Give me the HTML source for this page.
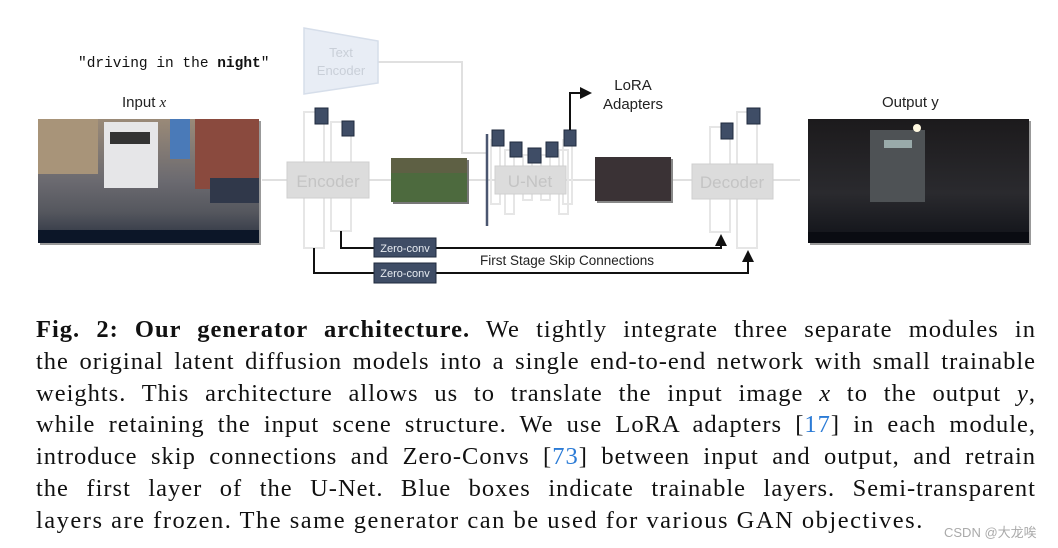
<!DOCTYPE html>
<html><head><meta charset="utf-8"><style>
body{margin:0;background:#fff;width:1058px;height:548px;overflow:hidden;position:relative}
.cap{position:absolute;left:36px;top:314px;width:1000px;font-family:"Liberation Serif",serif;font-size:24.5px;letter-spacing:1px;line-height:31.8px;text-align:justify;color:#111}
.cap p{margin:0;text-align-last:justify;white-space:nowrap}
.cap p.last{text-align-last:left;letter-spacing:1.5px}
a{color:#2b7bd6;text-decoration:none}
</style></head><body>
<svg width="1058" height="300" style="position:absolute;left:0;top:0" font-family="Liberation Sans,sans-serif">
<defs>
<marker id="ah" markerWidth="6" markerHeight="6" refX="5" refY="3" orient="auto"><path d="M0,0L6,3L0,6z" fill="#111"/></marker>
<linearGradient id="day" x1="0" y1="0" x2="0" y2="1"><stop offset="0" stop-color="#9a8a78"/><stop offset="0.5" stop-color="#6b6a70"/><stop offset="0.75" stop-color="#55575e"/><stop offset="1" stop-color="#2a3140"/></linearGradient>
<linearGradient id="night" x1="0" y1="0" x2="0" y2="1"><stop offset="0" stop-color="#1c1a1c"/><stop offset="0.6" stop-color="#2a2a2e"/><stop offset="1" stop-color="#101218"/></linearGradient>
</defs>
<text x="78" y="67" font-family="Liberation Mono,monospace" font-size="14.5" fill="#111">″driving in the <tspan font-weight="bold">night</tspan>″</text>
<text x="122" y="107" font-size="15" fill="#222">Input <tspan font-family="Liberation Serif,serif" font-style="italic">x</tspan></text>
<text x="882" y="107" font-size="15" fill="#222">Output y</text>
<rect x="40" y="121" width="221" height="124" fill="#999"/>
<rect x="38" y="119" width="221" height="124" fill="url(#day)"/>
<rect x="38" y="119" width="60" height="55" fill="#a89479"/>
<rect x="195" y="119" width="64" height="70" fill="#8a4a3e"/>
<rect x="170" y="119" width="20" height="40" fill="#4a7ab8"/>
<rect x="104" y="122" width="54" height="66" fill="#e6e6e8"/>
<rect x="110" y="132" width="40" height="12" fill="#333"/>
<rect x="210" y="178" width="49" height="25" fill="#30384a"/>
<rect x="38" y="230" width="221" height="13" fill="#0c1628"/>
<rect x="810" y="121" width="221" height="124" fill="#999"/>
<rect x="808" y="119" width="221" height="124" fill="url(#night)"/>
<rect x="870" y="130" width="55" height="72" fill="#4e5255"/>
<rect x="884" y="140" width="28" height="8" fill="#9aa"/>
<circle cx="917" cy="128" r="4" fill="#fff8e0"/>
<rect x="808" y="232" width="221" height="11" fill="#0a0c12"/>
<g stroke="#e0e0e0" stroke-width="2" fill="none">
<line x1="262" y1="180" x2="287" y2="180"/>
<line x1="369" y1="180" x2="391" y2="180"/>
<line x1="467" y1="180" x2="495" y2="180"/>
<line x1="566" y1="180" x2="595" y2="180"/>
<line x1="671" y1="180" x2="692" y2="180"/>
<line x1="773" y1="180" x2="800" y2="180"/>
<polyline points="378,62 462,62 462,153 487,153"/>
</g>
<polygon points="304,28 378,41 378,83 304,94" fill="#e8edf5" stroke="#d6deea" stroke-width="1.5"/>
<text x="341" y="57" font-size="13" fill="#c9cfd8" text-anchor="middle">Text</text>
<text x="341" y="75" font-size="13" fill="#c9cfd8" text-anchor="middle">Encoder</text>
<g fill="none" stroke="#e6e6e6" stroke-width="2">
<rect x="304" y="112" width="20" height="136"/>
<rect x="331" y="122" width="20" height="109"/>
<rect x="710" y="127" width="20" height="105"/>
<rect x="737" y="112" width="20" height="136"/>
<rect x="505" y="150" width="9" height="64"/>
<rect x="523" y="155" width="9" height="45"/>
<rect x="541" y="155" width="9" height="45"/>
<rect x="559" y="150" width="9" height="64"/>
<rect x="491" y="140" width="9" height="64"/>
<rect x="563" y="140" width="9" height="64"/>
</g>
<rect x="287" y="162" width="82" height="36" fill="#dcdcdc" stroke="#cfcfcf"/>
<text x="328" y="187" font-size="17" fill="#c4c4c4" text-anchor="middle">Encoder</text>
<rect x="692" y="164" width="81" height="35" fill="#dcdcdc" stroke="#cfcfcf"/>
<text x="732" y="188" font-size="17" fill="#c4c4c4" text-anchor="middle">Decoder</text>
<line x1="487" y1="134" x2="487" y2="226" stroke="#4a5670" stroke-width="2.5"/>
<rect x="495" y="166" width="71" height="28" fill="#dcdcdc" stroke="#cfcfcf"/>
<text x="530" y="187" font-size="17" fill="#c4c4c4" text-anchor="middle">U-Net</text>
<rect x="393" y="160" width="76" height="44" fill="#777"/>
<rect x="391" y="158" width="76" height="44" fill="#4d6a3e"/>
<rect x="391" y="158" width="76" height="15" fill="#6a5a4a" opacity="0.6"/>
<rect x="597" y="159" width="76" height="44" fill="#888"/>
<rect x="595" y="157" width="76" height="44" fill="#3a3235"/>
<g fill="#3f4d66" stroke="#1f2a3d" stroke-width="1">
<rect x="315" y="108" width="13" height="16"/>
<rect x="342" y="121" width="12" height="15"/>
<rect x="492" y="130" width="12" height="16"/>
<rect x="510" y="142" width="12" height="15"/>
<rect x="528" y="148" width="13" height="15"/>
<rect x="546" y="142" width="12" height="15"/>
<rect x="564" y="130" width="12" height="16"/>
<rect x="721" y="123" width="12" height="16"/>
<rect x="747" y="108" width="13" height="16"/>
</g>
<polyline points="570,130 570,93 590,93" fill="none" stroke="#111" stroke-width="2" marker-end="url(#ah)"/>
<text x="633" y="90" font-size="15" fill="#222" text-anchor="middle">LoRA</text>
<text x="633" y="109" font-size="15" fill="#222" text-anchor="middle">Adapters</text>
<polyline points="341,231 341,248 721,248 721,236" fill="none" stroke="#111" stroke-width="2" marker-end="url(#ah)"/>
<polyline points="314,248 314,273 748,273 748,252" fill="none" stroke="#111" stroke-width="2" marker-end="url(#ah)"/>
<g fill="#3f4d66" stroke="#1f2a3d">
<rect x="374" y="238" width="62" height="19"/>
<rect x="374" y="263" width="62" height="20"/>
</g>
<text x="405" y="252" font-size="11" fill="#e8ecf2" text-anchor="middle">Zero-conv</text>
<text x="405" y="277" font-size="11" fill="#e8ecf2" text-anchor="middle">Zero-conv</text>
<text x="567" y="265" font-size="13.5" fill="#222" text-anchor="middle">First Stage Skip Connections</text>
</svg>
<div class="cap">
<p><b>Fig. 2: Our generator architecture.</b> We tightly integrate three separate modules in</p>
<p>the original latent diffusion models into a single end-to-end network with small trainable</p>
<p>weights. This architecture allows us to translate the input image <i>x</i> to the output <i>y</i>,</p>
<p>while retaining the input scene structure. We use LoRA adapters [<a>17</a>] in each module,</p>
<p>introduce skip connections and Zero-Convs [<a>73</a>] between input and output, and retrain</p>
<p>the first layer of the U-Net. Blue boxes indicate trainable layers. Semi-transparent</p>
<p class="last">layers are frozen. The same generator can be used for various GAN objectives.</p>
</div>
<div style="position:absolute;left:944px;top:522px;font-family:'Liberation Sans','Noto Sans CJK SC',sans-serif;font-size:13px;color:#aaa">CSDN @大龙唉</div>
</body></html>
